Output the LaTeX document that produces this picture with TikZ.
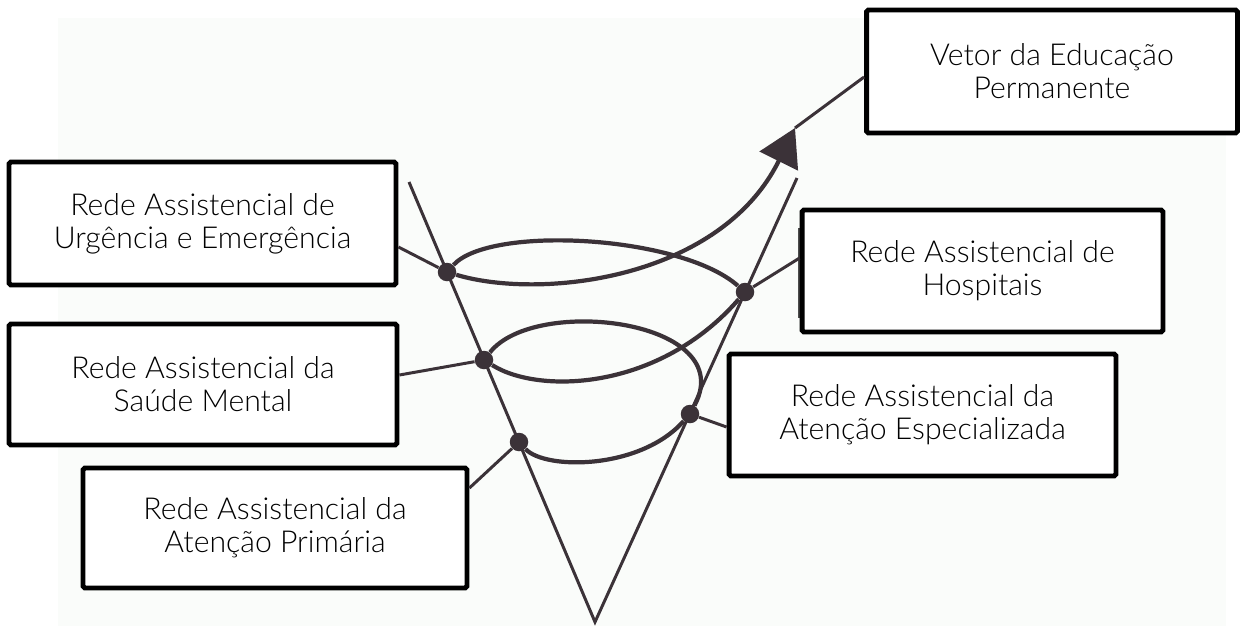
\documentclass[tikz,border=0pt]{standalone}
\usepackage{fontspec}
\setmainfont{Lato}[UprightFont=* Light]
\usepackage{tikz}
\usetikzlibrary{arrows.meta}
\definecolor{ink}{RGB}{59,50,56}
\definecolor{scanbg}{RGB}{250,252,250}

\begin{document}
\begin{tikzpicture}[x=0.02cm,y=-0.02cm,
    redebox/.style={draw=black,line width=2.8pt,rounded corners=1pt,fill=white,
        align=center,inner sep=0pt,font=\fontsize{17.2}{18.7}\selectfont},
    dot/.style={circle,fill=ink,inner sep=0pt,minimum size=0.37cm},
    cone/.style={ink,line width=1.7pt},
    loop/.style={ink,line width=2.4pt},
    link/.style={ink,line width=1.7pt}]
    \useasboundingbox (0,0) rectangle (1252,626);
    % Scan
    \fill[scanbg] (58,18) rectangle (1226,626);
    % Boxes
    \node[redebox,minimum width=7.42cm,minimum height=2.46cm] (vetor) at (1052,71.5) {Vetor da Educação\\Permanente};
    \node[redebox,minimum width=7.74cm,minimum height=2.46cm] (urg) at (202.5,223.5) {Rede Assistencial de\\Urgência e Emergência};
    \draw[gray!60!black,line width=1.6pt] (799,228) -- (799,318);
    \node[redebox,minimum width=7.22cm,minimum height=2.44cm] (hosp) at (982.5,271) {Rede Assistencial de\\Hospitais};
    \node[redebox,minimum width=7.76cm,minimum height=2.42cm] (mental) at (203,384.5) {Rede Assistencial da\\Saúde Mental};
    \node[redebox,minimum width=7.74cm,minimum height=2.44cm] (espec) at (922.5,415) {Rede Assistencial da\\Atenção Especializada};
    \node[redebox,minimum width=7.68cm,minimum height=2.40cm] (prim) at (275,528) {Rede Assistencial da\\Atenção Primária};
    % Cone
    \coordinate (ltop) at (409,182);
    \coordinate (rtop) at (797,178);
    \coordinate (apex) at (595,622);
    \draw[cone] (ltop) -- (apex) -- (rtop);
    % Knots
    \node[dot] (d1) at (447,272) {};
    \node[dot] (d2) at (745,292) {};
    \node[dot] (d3) at (484,360) {};
    \node[dot] (d4) at (690,414) {};
    \node[dot] (d5) at (519,442) {};
    % Loops
    \coordinate (tip) at (795,128);
    \draw[loop,-{Triangle[length=21pt,width=24pt]}] (d1) .. controls (540,300) and (720,280) .. (tip);
    \draw[loop] (d1) .. controls (490,225) and (680,235) .. (d2);
    \draw[loop] (d3) .. controls (540,395) and (660,390) .. (d2);
    \draw[loop] (d3) .. controls (535,295) and (740,320) .. (d4);
    \draw[loop] (d5) .. controls (545,470) and (640,470) .. (d4);
    % Links to boxes
    \draw[link] (tip) -- ([yshift=-0.11cm]vetor.west);
    \draw[link] (d1) -- ([yshift=-0.47cm]urg.east);
    \draw[link] (d2) -- ([yshift=0.26cm]hosp.west);
    \draw[link] (d3) -- ([yshift=0.19cm]mental.east);
    \draw[link] (d4) -- ([yshift=-0.24cm]espec.west);
    \draw[link] (d5) -- ([yshift=0.8cm]prim.east);
\end{tikzpicture}
\end{document}
